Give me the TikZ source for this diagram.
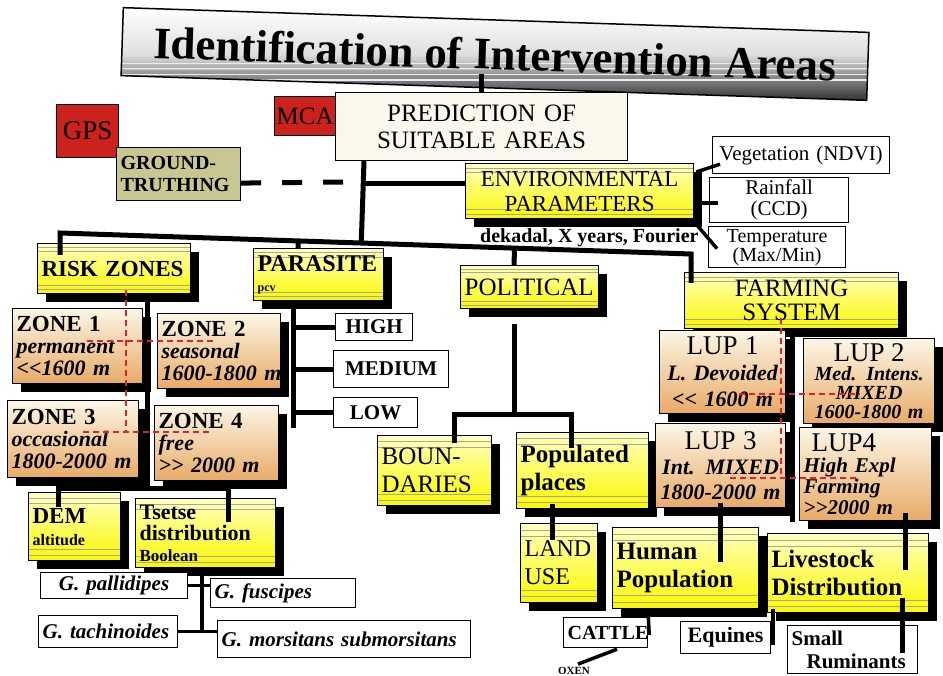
\documentclass[tikz,border=0pt]{standalone}
\usepackage{fontspec}
\setmainfont{Liberation Serif}
\usepackage{tikz}
\usetikzlibrary{calc,shadows}

\definecolor{boxred}{RGB}{204,34,30}
\definecolor{khaki}{RGB}{200,198,145}
\definecolor{cream}{RGB}{250,247,236}
\definecolor{hiyellow}{RGB}{250,248,0}
\definecolor{zonetop}{RGB}{252,246,230}
\definecolor{zonebot}{RGB}{232,170,102}
\definecolor{gridred}{RGB}{226,32,40}

\newcommand{\fsz}[2]{\fontsize{#1}{#2}\selectfont}

\tikzset{
  box/.style={anchor=north west, draw=black, line width=1.2pt, inner xsep=4pt, inner ysep=2pt},
  wh/.style 2 args={text width=#1, minimum height=#2},
  wbox/.style={box, fill=white},
  blackshadow/.style={drop shadow={shadow xshift=8pt, shadow yshift=-8pt, fill=black, opacity=1}},
  ybox/.style={box, blackshadow, top color=yellow!25!white, bottom color=hiyellow,
    path picture={
      \foreach \f in {0.08,0.16,0.84,0.92}
        \draw[black!35, line width=0.6pt]
          ($(path picture bounding box.north west)!\f!(path picture bounding box.south west)$) --
          ($(path picture bounding box.north east)!\f!(path picture bounding box.south east)$);
    }},
  zbox/.style={box, blackshadow, top color=zonetop, bottom color=zonebot},
  titlebox/.style={anchor=center, draw=black, line width=1.5pt,
    top color=white, bottom color=black!80, middle color=gray!25,
    path picture={
      \foreach \f in {0.6,0.66,0.72,0.78}
        \draw[white!85!gray, line width=1.3pt]
          ($(path picture bounding box.north west)!\f!(path picture bounding box.south west)$) --
          ($(path picture bounding box.north east)!\f!(path picture bounding box.south east)$);
    }},
  link/.style={line width=5pt},
  twig/.style={line width=3.5pt},
  grid/.style={gridred, line width=1.6pt, dash pattern=on 6pt off 4pt}
}

\begin{document}
\begin{tikzpicture}[x=1pt, y=-1pt]
  \useasboundingbox (0,0) rectangle (943,676);

  % heading and top row
  \node[titlebox, minimum width=746pt, minimum height=68pt, rotate=-1.9,
    font=\fsz{45}{50}\bfseries] (title) at (495,54) {Identification of Intervention Areas};
  \node[box, fill=cream, wh={284pt}{68pt}, align=center, font=\fsz{25}{27}] (pred) at (335,92) {PREDICTION OF\\SUITABLE AREAS};
  \node[box, fill=boxred, inner xsep=2pt, wh={58pt}{53pt}, align=center, font=\fsz{27}{28}] (gps) at (56,104) {GPS};
  \node[box, fill=boxred, inner xsep=1pt, wh={59pt}{39pt}, align=center, font=\fsz{25}{26}] (mca) at (274,96) {MCA};
  \node[box, fill=khaki, wh={116pt}{53pt}, align=left, font=\fsz{20}{22}\bfseries] (ground) at (116,147) {GROUND-\\TRUTHING};
  \node[ybox, wh={220pt}{55pt}, align=center, font=\fsz{23}{25}] (env) at (465,163) {ENVIRONMENTAL\\PARAMETERS};
  \node[anchor=base west, inner sep=0pt, font=\fsz{20}{20}\bfseries] (fourier) at (480,243) {dekadal, X years, Fourier};
  \node[wbox, wh={169pt}{37pt}, align=center, font=\fsz{21}{22}] (veg) at (712,136) {Vegetation (NDVI)};
  \node[wbox, inner ysep=0pt, wh={131pt}{45pt}, align=center, font=\fsz{21}{21}] (rain) at (709,177) {Rainfall\\(CCD)};
  \node[wbox, inner ysep=0pt, wh={129pt}{41pt}, align=center, font=\fsz{20}{19}] (temp) at (708,226) {Temperature\\(Max/Min)};

  % second row
  \node[ybox, wh={145pt}{50pt}, align=left, font=\fsz{23}{25}\bfseries] (risk) at (37,243) {RISK ZONES};
  \node[ybox, wh={122pt}{52pt}, align=left, font=\fsz{24}{20}\bfseries] (parasite) at (253,248) {PARASITE\\{\fsz{12}{12}pcv}};
  \node[ybox, wh={130pt}{43pt}, align=left, font=\fsz{25}{26}] (political) at (460,265) {POLITICAL};
  \node[ybox, wh={206pt}{56pt}, align=center, font=\fsz{25}{24}] (farming) at (684,272) {FARMING\\SYSTEM};

  % risk zones
  \node[zbox, wh={122pt}{75pt}, align=left, font=\fsz{22}{22}\bfseries] (zone1) at (12,308) {{\fsz{23}{22}ZONE 1}\\\itshape permanent\\\itshape \mbox{<{}<1600 m}};
  \node[zbox, wh={115pt}{75pt}, align=left, font=\fsz{22}{22}\bfseries] (zone2) at (157,313) {{\fsz{23}{22}ZONE 2}\\\itshape seasonal\\\itshape \mbox{1600-1800 m}};
  \node[zbox, wh={123pt}{77pt}, align=left, font=\fsz{22}{22}\bfseries] (zone3) at (7,400) {{\fsz{23}{22}ZONE 3}\\\itshape occasional\\\itshape \mbox{1800-2000 m}};
  \node[zbox, wh={116pt}{75pt}, align=left, font=\fsz{22}{22}\bfseries] (zone4) at (154,405) {{\fsz{23}{22}ZONE 4}\\\itshape free\\\itshape \mbox{>{}> 2000 m}};
  \node[ybox, wh={84pt}{68pt}, align=left, font=\fsz{23}{22}\bfseries] (dem) at (28,492) {DEM\\{\fsz{16}{16}altitude}};
  \node[ybox, wh={132pt}{69pt}, align=left, font=\fsz{22}{21}\bfseries] (tsetse) at (135,498) {Tsetse\\distribution\\{\fsz{17}{17}Boolean}};
  \node[wbox, wh={139pt}{26pt}, align=center, font=\fsz{21}{21}\bfseries\itshape] (pallidipes) at (40,572) {G. pallidipes};
  \node[wbox, wh={137pt}{29pt}, align=left, font=\fsz{21}{21}\bfseries\itshape] (fuscipes) at (210,578) {G. fuscipes};
  \node[wbox, wh={131pt}{32pt}, align=left, font=\fsz{21}{21}\bfseries\itshape] (tachinoides) at (38,615) {G. tachinoides};
  \node[wbox, wh={245pt}{37pt}, align=left, font=\fsz{21}{21}\bfseries\itshape] (morsitans) at (217,620) {G. morsitans submorsitans};

  % parasite levels
  \node[wbox, wh={69pt}{27pt}, align=center, font=\fsz{21}{21}\bfseries] (high) at (335,313) {HIGH};
  \node[wbox, wh={107pt}{37pt}, align=center, font=\fsz{21}{21}\bfseries] (medium) at (333,350) {MEDIUM};
  \node[wbox, wh={76pt}{30pt}, align=center, font=\fsz{21}{21}\bfseries] (low) at (333,397) {LOW};

  % political units
  \node[ybox, wh={106pt}{70pt}, align=left, font=\fsz{25}{28}] (boundaries) at (377,435) {BOUN-\\DARIES};
  \node[ybox, wh={124pt}{76pt}, align=left, font=\fsz{25}{28}\bfseries] (populated) at (516,432) {Populated\\places};

  % land use patterns
  \node[zbox, wh={118pt}{83pt}, align=center, font=\fsz{22}{26}\bfseries\itshape] (lup1) at (659,330) {{\normalfont\fsz{27}{26}LUP 1}\\L. Devoided\\\mbox{<{}< 1600 m}};
  \node[zbox, wh={123pt}{85pt}, align=center, font=\fsz{20}{19}\bfseries\itshape] (lup2) at (803,338) {{\normalfont\fsz{27}{19}LUP 2}\\Med. Intens.\\MIXED\\\mbox{1600-1800 m}};
  \node[zbox, wh={122pt}{84pt}, align=center, font=\fsz{22}{25}\bfseries\itshape] (lup3) at (655,423) {{\normalfont\fsz{27}{25}LUP 3}\\Int. MIXED\\\mbox{1800-2000 m}};
  \node[zbox, wh={124pt}{93pt}, align=left, font=\fsz{21}{21}\bfseries\itshape] (lup4) at (799,427) {\hspace*{8pt}{\normalfont\fsz{27}{21}LUP4}\\High Expl\\Farming\\\mbox{>{}>2000 m}};

  % bottom row
  \node[ybox, wh={69pt}{79pt}, align=left, font=\fsz{24}{28}] (landuse) at (520,523) {LAND\\USE};
  \node[ybox, wh={138pt}{81pt}, align=left, font=\fsz{25}{28}\bfseries] (human) at (612,527) {Human\\Population};
  \node[ybox, wh={153pt}{79pt}, align=left, font=\fsz{25}{28}\bfseries] (livestock) at (767,533) {Livestock\\Distribution};
  \node[wbox, wh={76pt}{30pt}, align=left, font=\fsz{20}{20}\bfseries] (cattle) at (563,617) {CATTLE};
  \node[wbox, wh={82pt}{32pt}, align=center, font=\fsz{22}{22}\bfseries] (equines) at (680,621) {Equines};
  \node[wbox, wh={122pt}{48pt}, align=left, font=\fsz{21}{23}\bfseries] (small) at (787,625) {Small\\\hspace*{15pt}Ruminants};
  \node[inner sep=0pt, font=\fsz{11}{11}\bfseries] (oxen) at (574,671) {OXEN};

  % connectors
  \coordinate (barw) at (60,233);
  \coordinate (bare) at (691,254);
  \coordinate (hub) at ($(pred.south west)+(29,0)$);
  \coordinate (pc) at ($(parasite.north west)+(45,0)$);
  \coordinate (pl) at ($(political.north west)+(54,0)$);
  \draw[link] ($(title.south -| pred.north)+(0,-15)$) -- (pred.north);
  \draw[link] ($(risk.north west)+(23,12)$) -- (barw) -- (bare) -- ($(farming.north west)+(7,11)$);
  \draw[link] (hub) -- ($(barw)!(hub)!(bare)$);
  \draw[link] ($(barw)!(pc)!(bare)$) -- (pc);
  \draw[link] ($(barw)!(pl)!(bare)$) -- (pl);
  \draw[link] ($(env.west)+(0,-8)$) -- ($(env.west -| hub)+(0,-8)$);
  \coordinate (gtend) at (343,182);
  \draw[link, dash pattern=on 20pt off 21pt] ($(ground.east)+(0,9)$) -- (gtend);
  \draw[twig] ($(env.north east)+(2,9)$) -- ($(veg.south west)+(8,-10)$);
  \draw[twig] ($(env.east)+(2,12)$) -- ($(rain.west)+(9,3)$);
  \draw[twig] ($(env.south east)+(2,5)$) -- ($(temp.west)+(9,1.5)$);

  \coordinate (zbar) at (147,488);
  \draw[link] ($(risk.south west)+(110,4)$) -- (zbar);
  \draw[link] ($(dem.north west)+(30,15)$) |- (zbar) -| ($(tsetse.north west)+(93,24)$);
  \coordinate (tspine) at ($(tsetse.south west)+(67,0)$);
  \draw[twig] (tspine) -- (tspine |- tachinoides.east);
  \draw[twig] (pallidipes.east) -- (pallidipes.east -| fuscipes.west);
  \draw[twig] (tachinoides.east) -- (tachinoides.east -| morsitans.west);

  \coordinate (pspine) at ($(parasite.south west)+(40,0)$);
  \draw[link] (pspine) -- (pspine |- low.south);
  \foreach \lvl in {high,medium,low}
    \draw[link] (pspine |- \lvl.west) -- (\lvl.west);

  \coordinate (pbar) at ($(political.south west)+(54,105)$);
  \draw[link] ($(political.south west)+(54,15)$) -- (pbar);
  \draw[link] ($(boundaries.north west)+(77,8)$) |- (pbar) -| ($(populated.north west)+(55,16)$);

  \draw[link] ($(farming.south west)+(108,0)$) -- ($(lup4.north west)+(-7,95)$);
  \draw[link] ($(populated.south west)+(36,-5)$) -- ($(landuse.north west)+(32,17)$);
  \draw[link] ($(lup3.south west)+(65,-5)$) -- ($(human.north west)+(108,35)$);
  \draw[link] ($(lup4.south west)+(106,-8)$) -- ($(livestock.north west)+(138,37)$);
  \draw[twig] ($(human.south west)+(36,0)$) -- ($(cattle.north east)+(1,18)$);
  \draw[twig] ($(human.south east)+(14,0)$) -- ($(equines.north east)+(2,24)$);
  \draw[link] ($(livestock.south west)+(135,-15)$) -- ($(small.north west)+(115,28)$);
  \draw[twig] ($(cattle.south west)+(54,1)$) -- ($(oxen.north)+(4,-3)$);

  % altitude bands
  \draw[grid] (126,290) -- (126,432) (87,341) -- (213,341) (83,432) -- (213,432);
  \draw[grid] (781,318) -- (781,478) (739,394) -- (860,394) (730,478) -- (860,478);
\end{tikzpicture}
\end{document}
